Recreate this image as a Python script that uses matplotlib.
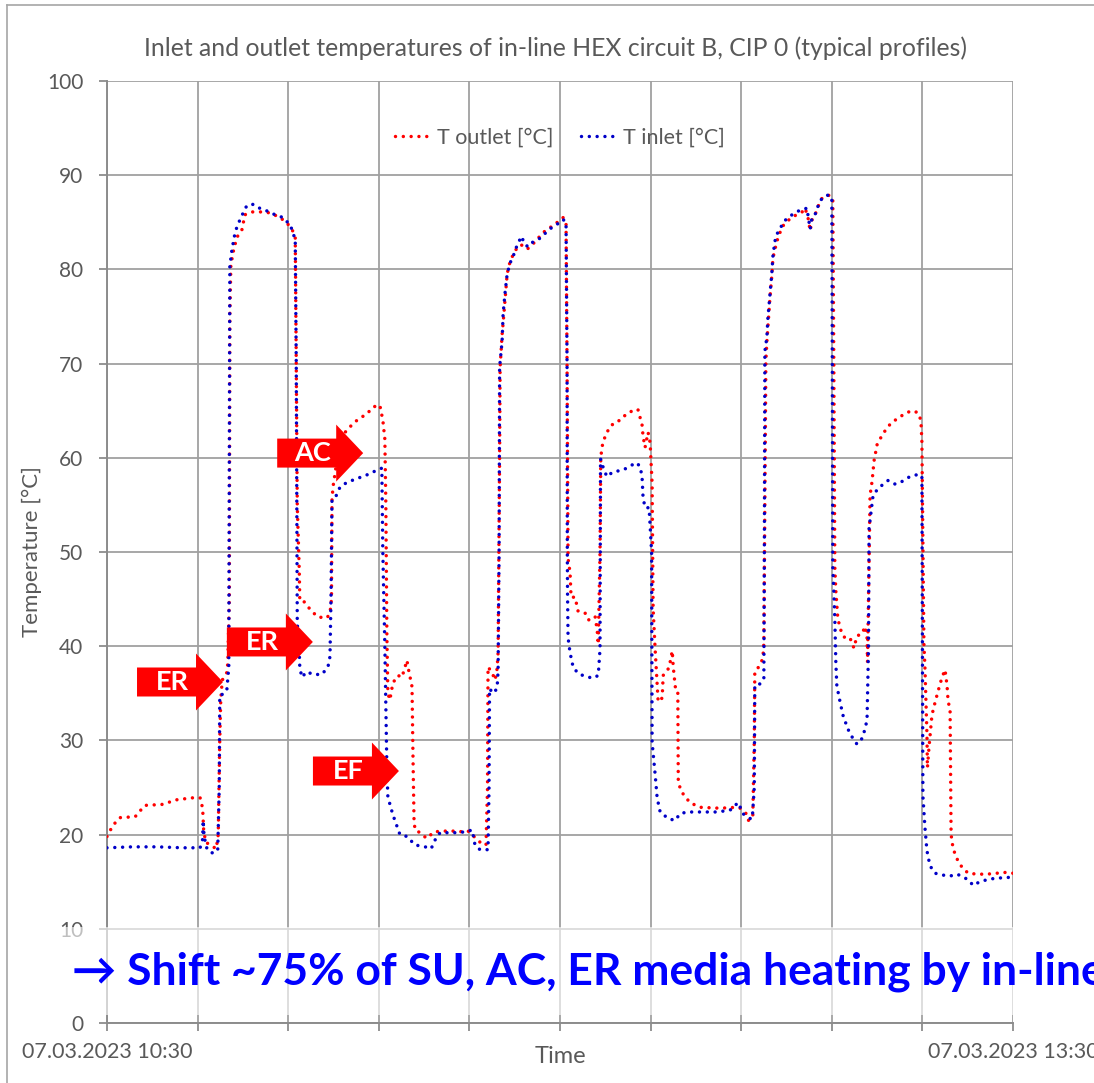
import matplotlib
matplotlib.use("Agg")
import matplotlib.pyplot as plt
import matplotlib.transforms as mtransforms
from matplotlib.patches import Polygon, Rectangle
from matplotlib.lines import Line2D

plt.rcParams['font.family'] = ['Lato', 'DejaVu Sans']

# time in minutes after 07.03.2023 10:30, temperatures in degC
t_outlet = [0, 1.2, 2.6, 5.6, 7.5, 10.9, 13.9, 16.9, 18.5, 19.0, 19.2, 19.6, 20.5, 21.7, 22.1,
            22.4, 22.6, 22.9, 23.8, 24.0, 24.3, 24.4, 24.6, 25.0, 25.8, 26.8, 27.4, 28.8, 30.8,
            32.4, 34.4, 35.8, 36.8, 37.4, 37.6, 37.8, 38.0, 38.2, 38.3, 38.9, 39.9, 40.9, 41.9,
            43.7, 44.3, 44.6, 44.7, 44.9, 46.3, 47.7, 49.7, 51.7, 52.9, 54.2, 54.8, 55.2, 55.4,
            55.6, 55.8, 56.2, 56.8, 57.8, 58.6, 59.6, 59.8, 60.6, 60.8, 61.0, 61.2, 62.2, 63.5,
            65.0, 68.0, 70.7, 71.7, 72.9, 74.5, 75.3, 75.6, 75.7, 76.5, 77.1, 77.5, 77.7, 78.0,
            78.1, 78.5, 78.7, 79.5, 79.9, 80.7, 81.7, 82.7, 83.6, 85.0, 86.6, 89.0, 90.6, 91.2,
            91.4, 91.6, 92.0, 92.2, 93.0, 93.6, 95.0, 95.6, 96.6, 97.0, 97.4, 97.6, 97.95, 98.1,
            98.5, 99.3, 100.3, 101.3, 102.5, 103.5, 104.5, 105.5, 106.3, 106.5, 106.9, 107.5,
            107.9, 108.3, 108.5, 108.9, 109.3, 109.5, 110.3, 110.5, 111.3, 111.7, 112.3, 112.5,
            112.9, 113.4, 113.5, 114.2, 115.8, 117.8, 121.8, 125.2, 125.8, 126.9, 127.4, 128.3,
            128.6, 128.7, 129.1, 129.7, 130.3, 130.5, 130.9, 131.1, 131.7, 132.1, 132.3, 133.1,
            134.1, 135.1, 136.3, 138.1, 138.7, 139.3, 139.7, 140.1, 140.7, 141.1, 142.1, 143.6,
            144.2, 144.4, 144.6, 144.8, 145.2, 145.4, 146.0, 146.6, 147.6, 148.4, 149.0, 150.0,
            150.6, 151.0, 151.1, 151.6, 152.0, 152.4, 153.0, 154.0, 155.0, 156.0, 157.2, 158.5,
            159.9, 161.1, 161.7, 161.9, 162.3, 162.5, 162.7, 162.9, 163.0, 163.3, 163.9, 164.5,
            165.1, 165.9, 166.5, 166.9, 167.1, 167.5, 167.7, 168.1, 168.9, 169.9, 171.1, 172.9,
            174.8, 176.8, 178.0, 180.0]
T_outlet = [19.8, 21.0, 21.8, 21.9, 23.1, 23.2, 23.7, 23.9, 23.9, 22.8, 20.5, 19.2, 18.9, 18.5, 20.0,
            30.0, 34.3, 36.4, 37.2, 38.2, 45.0, 75.0, 80.3, 81.7, 83.4, 84.2, 85.8, 86.1, 86.1,
            86.0, 85.5, 84.9, 84.2, 83.4, 70.0, 55.0, 51.3, 48.0, 44.9, 44.9, 44.2, 43.6, 43.1,
            43.0, 43.5, 45.0, 55.5, 56.9, 61.9, 63.0, 64.0, 64.7, 65.4, 65.6, 64.0, 62.0, 55.0,
            41.4, 35.0, 34.3, 36.1, 36.9, 36.7, 38.5, 37.8, 35.7, 28.0, 21.5, 20.5, 20.2, 19.6,
            20.3, 20.4, 20.3, 20.4, 19.8, 19.0, 18.9, 25.0, 37.8, 37.2, 36.4, 37.6, 39.3, 60.0,
            69.6, 73.1, 74.3, 79.5, 80.5, 81.6, 82.5, 82.6, 82.2, 82.9, 83.9, 84.8, 85.5, 85.0,
            70.0, 49.3, 47.8, 45.2, 45.2, 43.7, 43.5, 42.8, 42.8, 43.1, 41.6, 40.2, 50.0, 60.1,
            61.6, 62.7, 63.5, 63.7, 64.4, 64.6, 65.1, 65.1, 63.5, 62.3, 61.1, 62.7,
            61.6, 57.3, 44.0, 39.7, 36.0, 34.1, 34.5, 36.9, 37.4, 37.8, 39.5, 37.8,
            35.7, 35.5, 25.5, 24.5, 23.4, 22.9, 22.8, 22.9, 22.8, 22.3, 21.5, 21.8,
            30.0, 37.3, 37.5, 38.0, 38.7, 40.3, 70.3, 72.3, 76.9, 79.4, 81.2, 83.0,
            84.5, 85.1, 85.6, 86.1, 86.5, 85.4, 84.1, 85.3, 85.8, 86.5, 87.6, 87.9,
            87.3, 70.0, 48.4, 45.9, 42.9, 42.5, 41.3, 40.9, 40.9, 39.8, 41.1, 41.3,
            42.1, 40.9, 38.3, 56.0, 57.5, 59.7, 61.4, 62.4, 63.2, 63.8, 64.2, 64.7,
            65.0, 64.8, 64.0, 61.7, 40.3, 37.8, 34.2, 30.7, 27.1, 29.2, 32.7, 34.0,
            35.2, 36.7, 37.5, 35.8, 34.2, 33.2, 20.0, 18.5, 17.4, 16.5, 15.9, 15.8,
            15.8, 15.9, 16.0, 15.9]

t_inlet = [0, 5, 10, 15, 18.5, 19.0, 19.1, 19.3, 19.9, 21.1, 22.0, 22.3, 22.4, 23.0, 23.8, 24.2,
           24.3, 24.4, 24.8, 25.3, 25.8, 26.6, 27.8, 29.0, 29.8, 31.4, 33.4, 35.0, 36.4, 36.9,
           37.4, 37.6, 37.7, 37.8, 38.2, 38.3, 38.7, 39.7, 40.9, 42.7, 43.9, 44.3, 44.5, 44.7,
           45.3, 46.3, 47.7, 49.7, 51.7, 53.3, 54.6, 54.8, 55.2, 55.6, 55.8, 56.8, 58.2, 59.6,
           61.2, 63.2, 64.4, 65.5, 66.2, 69.0, 71.5, 72.5, 72.9, 73.1, 74.1, 75.7, 75.9, 76.0,
           76.7, 77.5, 77.7, 77.9, 78.0, 78.5, 78.7, 79.1, 79.5, 80.1, 80.7, 81.7, 82.5, 82.7,
           83.6, 84.6, 86.0, 88.0, 90.0, 90.6, 91.2, 91.4, 91.45, 91.5, 91.6, 92.0, 92.6, 93.6,
           95.0, 96.6, 97.6, 97.95, 98.0, 98.05, 98.5, 99.3, 100.5, 102.5, 103.9, 105.1, 105.9,
           106.3, 106.5, 106.9, 107.7, 108.2, 108.3, 108.9, 109.3, 109.9, 111.5, 112.9, 113.8,
           115.2, 117.8, 121.2, 123.8, 125.4, 126.4, 127.8, 128.2, 128.6, 128.7, 129.3, 130.1,
           130.5, 130.6, 130.7, 131.1, 131.3, 131.7, 132.1, 132.3, 132.7, 133.3, 134.7, 136.1,
           137.7, 139.1, 139.3, 139.7, 140.1, 140.9, 141.3, 142.1, 143.3, 144.0, 144.1, 144.2,
           144.4, 144.6, 144.8, 145.0, 145.6, 146.2, 147.2, 148.2, 149.0, 150.0, 150.6, 151.0,
           151.3, 151.4, 152.0, 152.2, 153.0, 154.0, 155.2, 156.6, 158.0, 159.5, 160.9, 161.9,
           162.0, 162.1, 162.5, 162.9, 163.5, 164.5, 166.1, 167.5, 168.9, 170.1, 171.1, 172.1,
           173.4, 174.8, 176.8, 178.0, 180.0]
T_inlet = [18.6, 18.7, 18.7, 18.6, 18.6, 19.5, 21.5, 19.8, 18.4, 18.0, 18.4, 25.0, 34.8, 34.9, 35.3, 37.8,
           60.0, 80.3, 82.0, 83.5, 84.5, 85.5, 86.8, 86.9, 86.6, 86.3, 85.8, 85.5, 84.7, 84.0,
           83.1, 70.0, 55.0, 42.5, 39.3, 37.8, 36.7, 37.3, 37.0, 37.0, 37.8, 38.9, 45.0, 55.5,
           55.7, 56.9, 57.4, 57.8, 58.2, 58.6, 58.9, 50.0, 40.0, 27.2, 24.0, 22.1, 20.0, 19.8,
           18.9, 18.7, 18.5, 19.8, 20.2, 20.2, 20.3, 20.5, 19.6, 18.9, 18.4, 18.4, 25.0, 35.5,
           35.0, 35.5, 37.4, 50.0, 69.6, 72.4, 75.3, 77.6, 79.5, 80.7, 81.4, 82.9, 83.5, 82.9,
           82.4, 82.9, 83.3, 84.3, 85.0, 85.3, 85.0, 70.0, 50.2, 45.4, 40.9, 39.3, 37.8, 37.1,
           36.8, 36.6, 36.9, 39.7, 50.0, 59.9, 59.1, 58.0, 58.5, 58.7, 59.1, 59.5, 59.1,
           58.0, 55.8, 54.7, 54.7, 50.0, 29.8, 26.4, 23.9, 22.4, 21.7, 21.5, 22.2,
           22.4, 22.4, 22.4, 22.6, 23.4, 22.2, 21.7, 21.7, 25.0, 35.8, 35.8, 36.2,
           36.5, 50.0, 71.3, 72.8, 74.8, 77.2, 79.7, 81.4, 83.0, 84.0, 85.2, 85.8,
           86.3, 86.5, 85.6, 84.3, 85.6, 86.0, 86.8, 87.6, 87.9, 87.6, 70.0, 48.4,
           45.9, 42.9, 38.3, 35.8, 34.2, 32.7, 31.2, 30.2, 29.6, 30.2, 31.2, 32.2,
           40.0, 52.5, 55.1, 56.0, 56.6, 57.1, 57.6, 57.2, 57.5, 58.0, 58.2, 58.1,
           40.0, 24.1, 20.8, 18.3, 16.7, 15.9, 15.7, 15.6, 15.8, 15.5, 15.2, 14.6,
           15.0, 15.2, 15.4, 15.4, 15.5]

x_ticks = list(range(0, 181, 18))
x_ticklabels = ['07.03.2023 10:30'] + [''] * 9 + ['07.03.2023 13:30']
y_ticks = list(range(0, 101, 10))

# phase markers: (label, tip time [min], tip temperature [degC])
phase_arrows = [('ER', 23.05, 36.2), ('ER', 40.9, 40.45), ('AC', 50.9, 60.5), ('EF', 58.0, 26.75)]

title = 'Inlet and outlet temperatures of in-line HEX circuit B, CIP 0 (typical profiles)'
message = '\u2192 Shift ~75% of SU, AC, ER media heating by in-line'

W, H = 1094, 1083
fig = plt.figure(figsize=(W / 100, H / 100), dpi=100)
ax = fig.add_axes([107 / W, 1 - 1023 / H, 906 / W, 942 / H])

grey_txt = '#595959'
grid_c = '#a0a0a0'

dot = (0, (0.001, 2.25))
ax.plot(t_outlet, T_outlet, color='#ff0000', lw=2.5, ls=dot, dash_capstyle='round',
        label='T outlet [°C]', zorder=3)
ax.plot(t_inlet, T_inlet, color='#0000c8', lw=2.5, ls=dot, dash_capstyle='round',
        label='T inlet [°C]', zorder=3)

ax.set_xlim(0, 180)
ax.set_ylim(0, 100)
ax.set_xticks(x_ticks)
ax.set_xticklabels(x_ticklabels)
ax.set_yticks(y_ticks)
ax.grid(True, color=grid_c, lw=1.3)
ax.set_axisbelow(True)
for s in ['top', 'right']:
    ax.spines[s].set_visible(False)
for s in ['left', 'bottom']:
    ax.spines[s].set_color('#8c8c8c')
    ax.spines[s].set_linewidth(1.4)
ax.tick_params(axis='y', length=6, width=1.3, color='#8c8c8c', pad=11, labelsize=15,
               labelcolor=grey_txt)
ax.tick_params(axis='x', length=5.5, width=1.3, color='#8c8c8c', pad=8.5, labelsize=15.5,
               labelcolor=grey_txt)
ax.set_ylabel('Temperature [°C]', fontsize=16, color=grey_txt)
ax.yaxis.set_label_coords(-0.072, 0.5)
ax.set_xlabel('Time', fontsize=17, color=grey_txt)
ax.xaxis.set_label_coords(0.5, -0.024)

leg = ax.legend(loc='center', bbox_to_anchor=(0.5, 0.94), ncol=2, frameon=False,
                fontsize=15.5, handlelength=1.7, handletextpad=0.25, columnspacing=1.3)
for txt in leg.get_texts():
    txt.set_color(grey_txt)

fig.text(0.508, 1 - 56 / H, title, ha='center', va='baseline', fontsize=17.8, color=grey_txt)

# block arrows (shape in inches relative to tip)
L_rect, L_head, h_rect, h_head = 0.59, 0.27, 0.29, 0.57
shape = [(-L_rect - L_head, -h_rect / 2), (-L_head, -h_rect / 2), (-L_head, -h_head / 2),
         (0, 0), (-L_head, h_head / 2), (-L_head, h_rect / 2), (-L_rect - L_head, h_rect / 2)]
for lab, tx, ty in phase_arrows:
    tr = fig.dpi_scale_trans + mtransforms.ScaledTranslation(tx, ty, ax.transData)
    ax.add_patch(Polygon(shape, closed=True, facecolor='#ff0000', edgecolor='none',
                         transform=tr, zorder=5))
    ax.text(-L_head - L_rect / 2 + 0.06, 0, lab, transform=tr, ha='center', va='center',
            color='white', fontsize=19.5, fontweight='bold', zorder=6)

# translucent band behind the message
fig.add_artist(Rectangle((62 / W, 1 - 1015 / H), 1 - 62 / W, 88 / H, transform=fig.transFigure,
                         facecolor='white', alpha=0.62, edgecolor='none', zorder=5))
msg = fig.text(72 / W, 1 - 985 / H, message, ha='left', va='baseline', fontsize=27,
               fontweight='bold', color='#0000ff', zorder=6)
fig.canvas.draw()
wpx = msg.get_window_extent().width
msg.set_fontsize(27 * 1030 / wpx)

# outer chart border (left and top visible)
fig.add_artist(Line2D([7 / W, 7 / W], [0, 1 - 5 / H], transform=fig.transFigure,
                      color='#a6a6a6', lw=1.2))
fig.add_artist(Line2D([7 / W, 1], [1 - 5 / H, 1 - 5 / H], transform=fig.transFigure,
                      color='#a6a6a6', lw=1.2))

fig.savefig('out.png', dpi=100)
